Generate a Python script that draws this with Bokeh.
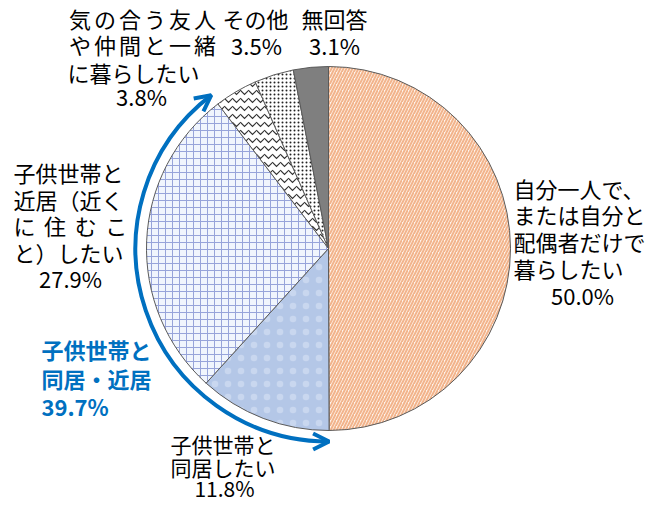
import math
from bokeh.plotting import figure
from bokeh.models import Range1d, Arrow, OpenHead
from bokeh.core.properties import value
from bokeh.embed import file_html
from bokeh.resources import INLINE

# ---- data ----
categories = ["自分一人で、または自分と配偶者だけで暮らしたい", "子供世帯と同居したい",
              "子供世帯と近居（近くに住むこと）したい", "気の合う友人や仲間と一緒に暮らしたい",
              "その他", "無回答"]
values = [50.0, 11.8, 27.9, 3.8, 3.5, 3.1]
value_labels = ["50.0%", "11.8%", "27.9%", "3.8%", "3.5%", "3.1%"]
group_label = ["子供世帯と", "同居・近居", "39.7%"]
group_members = [1, 2]

# label lines per slice
lines_self = ["自分一人で、", "または自分と", "配偶者だけで", "暮らしたい"]
lines_doukyo = ["子供世帯と", "同居したい"]
lines_kinkyo = ["子供世帯と", "近居（近く", "に住むこ", "と）したい"]
lines_friend = ["気の合う友人", "や仲間と一緒", "に暮らしたい"]

# ---- styles ----
FONT = "Noto Sans CJK JP"
BLUE = "#0070C0"
fills = ["#FEF4EC", "#B4C7E7", "#F0F5FD", "#FFFFFF", "#FFFFFF", "#7F7F7F"]
hatches = ["/", ".", "+", "v", ".", " "]
hatch_colors = ["#F2B48C", "#C9D7EF", "#97A4DA", "#333333", "#222222", "#7F7F7F"]
hatch_scales = [6, 13, 7, 8, 4, 12]
hatch_weights = [2.0, 0.5, 1.0, 1.2, 1.1, 1]

W, H = 647, 505
p = figure(width=W, height=H, x_range=Range1d(0, W), y_range=Range1d(0, H),
           output_backend="svg", toolbar_location=None, x_axis_type=None, y_axis_type=None,
           min_border=0, outline_line_color=None, background_fill_color="white")


def sy(y):
    return H - y


cx, cy, r = 328, sy(248), 182
total = sum(values)
cum = 0.0
bounds = []
for i, v in enumerate(values):
    ta = cum / total * 360
    tb = (cum + v) / total * 360
    bounds.append((ta, tb))
    p.wedge(x=cx, y=cy, radius=r,
            start_angle=math.radians(90 - tb), end_angle=math.radians(90 - ta),
            fill_color=fills[i], hatch_pattern=hatches[i], hatch_color=hatch_colors[i],
            hatch_scale=hatch_scales[i], hatch_weight=hatch_weights[i],
            line_color="#5A5A5A", line_width=1)
    cum += v

# group arrow (同居・近居)
R = 193
th_s = bounds[group_members[0]][0]
th_e = bounds[group_members[-1]][1]
p.arc(x=cx, y=cy, radius=R, start_angle=math.radians(90 - th_e), end_angle=math.radians(90 - th_s),
      direction="anticlock", line_color=BLUE, line_width=4)
for th, sgn in ((th_s, -1), (th_e, 1)):
    t = math.radians(th)
    tx, ty = cx + R * math.sin(t), cy + R * math.cos(t)
    dx, dy = sgn * math.cos(t), -sgn * math.sin(t)
    p.add_layout(Arrow(end=OpenHead(size=16, line_color=BLUE, line_width=4),
                       x_start=tx - 3 * dx, y_start=ty - 3 * dy, x_end=tx, y_end=ty,
                       line_color=BLUE, line_width=4))


def txt(x, y, s, align="left", color="black", bold=False, size="22px"):
    p.text(x=[x], y=[sy(y)], text=[s], text_align=align, text_baseline="middle",
           text_font=value(FONT), text_font_size=size, text_color=color,
           text_font_style="bold" if bold else "normal")


def spaced(x0, pitch, y, s):
    for k, ch in enumerate(s):
        txt(x0 + k * pitch, y, ch, align="center")


# right: 50.0%
for k, s in enumerate(lines_self):
    txt(513, 187 + 26.7 * k, s)
txt(582, 294, value_labels[0], align="center")

# bottom: 11.8%
txt(170, 443, lines_doukyo[0], size="21px")
txt(170, 466, lines_doukyo[1], size="21px")
txt(224, 487, value_labels[1], align="center", size="21px")

# left: 27.9%
txt(13, 171, lines_kinkyo[0])
txt(13, 198, lines_kinkyo[1])
spaced(24, 30.6, 224, lines_kinkyo[2])
txt(13, 251, lines_kinkyo[3])
txt(70, 277, value_labels[2], align="center")

# top-left: 3.8%
spaced(79.5, 25, 17, lines_friend[0])
spaced(79.5, 25, 43, lines_friend[1])
txt(67, 71, lines_friend[2])
txt(141, 95, value_labels[3], align="center")

# top: その他, 無回答
txt(255, 17, categories[4], align="center")
txt(256, 44, value_labels[4], align="center")
txt(334, 17, categories[5], align="center")
txt(334, 44, value_labels[5], align="center")

# group label
txt(41, 348, group_label[0], color=BLUE, bold=True)
txt(41, 377, group_label[1], color=BLUE, bold=True)
txt(41, 405, group_label[2], color=BLUE, bold=True)

open("out.html", "w").write(file_html(p, INLINE))
